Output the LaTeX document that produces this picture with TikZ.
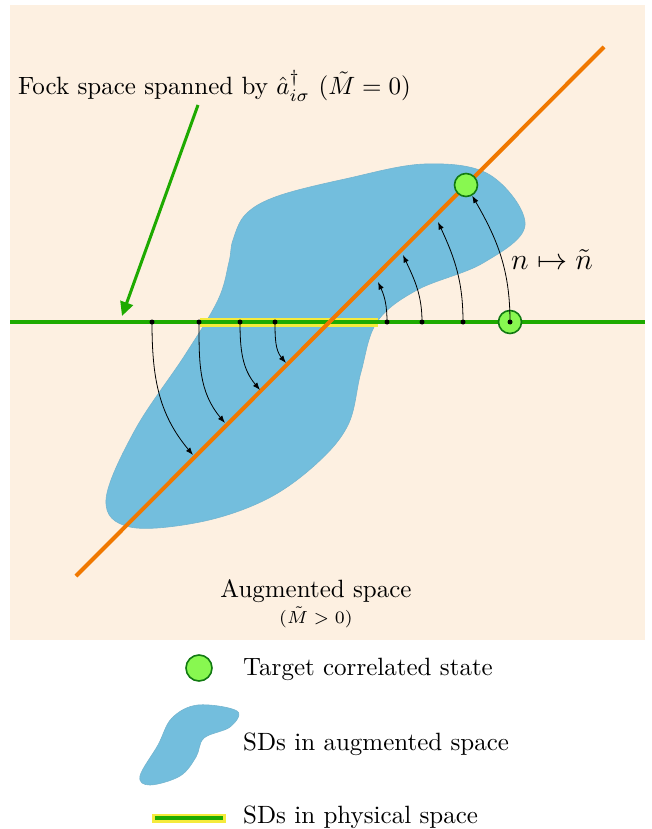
\documentclass[tikz,border=0pt]{standalone}
\usepackage{graphicx}
\usetikzlibrary{arrows.meta}
\definecolor{bg}{HTML}{FDF0E1}
\definecolor{blobc}{HTML}{73BEDD}
\definecolor{orng}{HTML}{F07800}
\definecolor{grn}{HTML}{1EAA00}
\definecolor{ylw}{HTML}{F5EB3C}
\definecolor{lgrn}{HTML}{88F850}
\definecolor{dgrn}{HTML}{127A12}
\newcommand{\bigtxt}[1]{\scalebox{2.5}{#1}}
\tikzset{
  blob/.style={fill=blobc, draw=blobc!85!gray, line width=0.6pt},
  dotn/.style={circle, fill=black, inner sep=0pt, minimum size=5pt},
  target/.style={circle, fill=lgrn, draw=dgrn, line width=1.6pt, inner sep=0pt, minimum size=23pt},
  mapar/.style={-{Latex[length=7.5pt,width=5.5pt]}, line width=0.8pt},
  lbl/.style={inner sep=0pt},
}
\begin{document}
\begin{tikzpicture}[x=1pt,y=-1pt]
\useasboundingbox (0,0) rectangle (651,829);
\fill[bg] (10,5) rectangle (645,640);
% blob
\draw[blob] plot[smooth cycle, tension=0.6] coordinates {
 (233,240) (246,214) (278,196) (345,179) (425,164) (490,175) (525,225) (483,263) (417,290) (377,322)
 (361,372) (348,425) (315,465) (265,500) (200,522) (130,527) (106,500) (135,430) (185,355)
 (218,300) (229,262)};
% physical line
\coordinate (g1) at (10,322);
\coordinate (g2) at (645,322);
\coordinate (y1) at (200,322);
\coordinate (y2) at (378,322);
\draw[ylw, line width=9pt] (y1) -- (y2);
\draw[grn, line width=4pt] (g1) -- (g2);
% orange line
\coordinate (o1) at (76,576);
\coordinate (o2) at (604,47);
\draw[orng, line width=4pt] (o1) -- (o2);
% dots
\node[dotn] (d1) at (152,322) {};
\node[dotn] (d2) at (199,322) {};
\node[dotn] (d3) at (240,322) {};
\node[dotn] (d4) at (275,322) {};
\node[dotn] (d5) at (387,322) {};
\node[dotn] (d6) at (422,322) {};
\node[dotn] (d7) at (463,322) {};
\node[target] (c2) at (510,322) {};
\node[dotn] (d8) at (510,322) {};
\node[target] (c1) at (466,185) {};
% arrow ends
\coordinate (t1) at (193,455);
\coordinate (t2) at (225,423);
\coordinate (t3) at (260,390);
\coordinate (t4) at (286,363);
\coordinate (t5) at (378,282);
\coordinate (t6) at (403,255);
\coordinate (t7) at (438,222);
\draw[mapar] (d1.center) to[out=-90,in=130] (t1);
\draw[mapar] (d2.center) to[out=-90,in=130] (t2);
\draw[mapar] (d3.center) to[out=-90,in=130] (t3);
\draw[mapar] (d4.center) to[out=-90,in=130] (t4);
\draw[mapar] (d5.center) to[out=90,in=-65] (t5);
\draw[mapar] (d6.center) to[out=90,in=-65] (t6);
\draw[mapar] (d7.center) to[out=90,in=-65] (t7);
\draw[mapar] (d8.center) to[out=90,in=-60] (c1);
% labels
\node[lbl, anchor=base west] (fock) at (18,95) {\bigtxt{Fock space spanned by $\hat a^\dagger_{i\sigma}$ ($\tilde M = 0$)}};
\coordinate (fa) at (198,105);
\coordinate (fb) at (122,316);
\draw[grn, line width=3pt, -{Triangle[length=14pt,width=13pt]}] (fa) -- (fb);
\node[lbl, anchor=base west] (map) at (511,269) {\bigtxt{\large $n \mapsto \tilde n$}};
\node[lbl, anchor=base] (aug) at (316,597) {\bigtxt{Augmented space}};
\node[lbl, anchor=base] (augm) at (316,623) {\bigtxt{\scriptsize ($\tilde M > 0$)}};
% legend
\node[target, minimum size=26pt] (lc) at (199,668) {};
\node[lbl, anchor=base west] (l1) at (243,675) {\bigtxt{Target correlated state}};
\draw[blob] plot[smooth cycle, tension=0.6] coordinates {
 (172,718) (198,705) (237,711) (230,727) (204,738) (196,757) (180,776) (150,785) (140,776) (158,745)};
\node[lbl, anchor=base west] (l2) at (243,750) {\bigtxt{SDs in augmented space}};
\coordinate (la) at (152,818);
\coordinate (lb) at (226,818);
\draw[ylw, line width=9pt] (la) -- (lb);
\draw[grn, line width=4pt] ([xshift=3pt]la) -- ([xshift=-3pt]lb);
\node[lbl, anchor=base west] (l3) at (243,823) {\bigtxt{SDs in physical space}};
\end{tikzpicture}
\end{document}
